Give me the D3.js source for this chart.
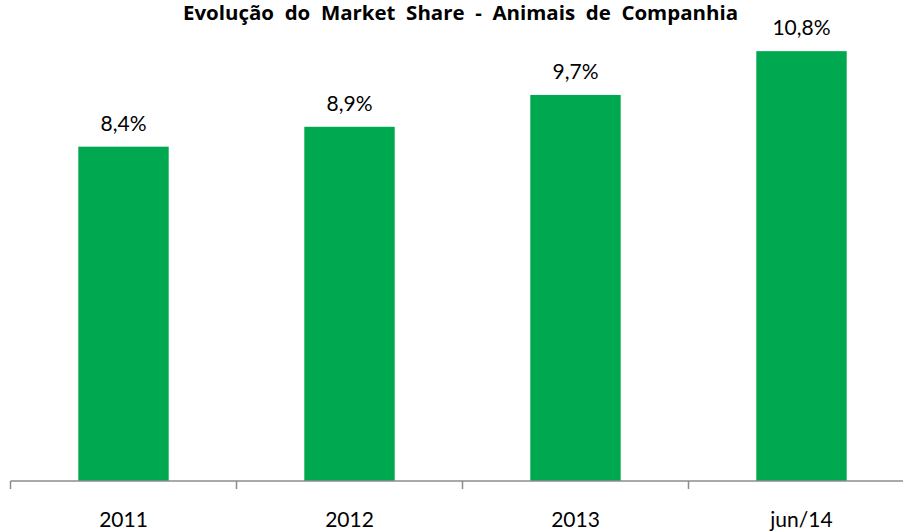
<!DOCTYPE html>
<html>
<head>
<meta charset="utf-8">
<script src="https://cdn.jsdelivr.net/npm/d3@7"></script>
<style>
  body { margin: 0; background: #fff; }
  svg { display: block; font-family: Lato, "Open Sans", sans-serif; }
</style>
</head>
<body>
<svg id="chart" width="903" height="532"></svg>
<script>
// dados
const categories = ["2011", "2012", "2013", "jun/14"];
const shares = [8.4, 8.9, 9.7, 10.8];
const labels = ["8,4%", "8,9%", "9,7%", "10,8%"];
const title = "Evolução  do  Market  Share  -  Animais  de  Companhia";

const svg = d3.select("#chart");
const baseY = 481;

const x = d3.scaleBand().domain(categories).range([10.5, 914.5]).paddingInner(0.6).paddingOuter(0.3);
const y = d3.scaleLinear().domain([0, 12]).range([baseY, 3.4]);

// barras
svg.append("g").selectAll("rect").data(shares).join("rect")
    .attr("x", (d, i) => x(categories[i]))
    .attr("y", d => y(d))
    .attr("width", x.bandwidth())
    .attr("height", d => baseY - y(d))
    .attr("fill", "#00a84f");

// rótulos
svg.append("g").selectAll("text").data(shares).join("text")
    .attr("x", (d, i) => x(categories[i]) + x.bandwidth() / 2)
    .attr("y", d => y(d) - 16)
    .attr("text-anchor", "middle")
    .attr("font-size", 21)
    .attr("fill", "#000")
    .text((d, i) => labels[i]);

// eixo
const xb = d3.scaleBand().domain(categories).range([10.5, 914.5]);
const axis = svg.append("g").attr("transform", `translate(0,${baseY})`);
axis.append("line").attr("x1", 10.5).attr("x2", 914.5).attr("stroke", "#8c8c8c").attr("stroke-width", 1.5);
axis.selectAll(".tick").data(categories).join("line")
    .attr("x1", d => xb(d)).attr("x2", d => xb(d))
    .attr("y1", 0).attr("y2", 8)
    .attr("stroke", "#8c8c8c").attr("stroke-width", 1.5);
axis.selectAll(".lbl").data(categories).join("text")
    .attr("x", d => xb(d) + xb.bandwidth() / 2)
    .attr("y", 46)
    .attr("text-anchor", "middle")
    .attr("font-size", 21)
    .attr("fill", "#000")
    .text(d => d);

// título
svg.append("text")
    .attr("x", 183).attr("y", 20)
    .attr("font-family", "'Open Sans', sans-serif")
    .attr("font-size", 19)
    .attr("font-weight", "bold")
    .attr("fill", "#000")
    .attr("textLength", 555)
    .attr("lengthAdjust", "spacingAndGlyphs")
    .style("white-space", "pre")
    .text(title);
</script>
</body>
</html>
